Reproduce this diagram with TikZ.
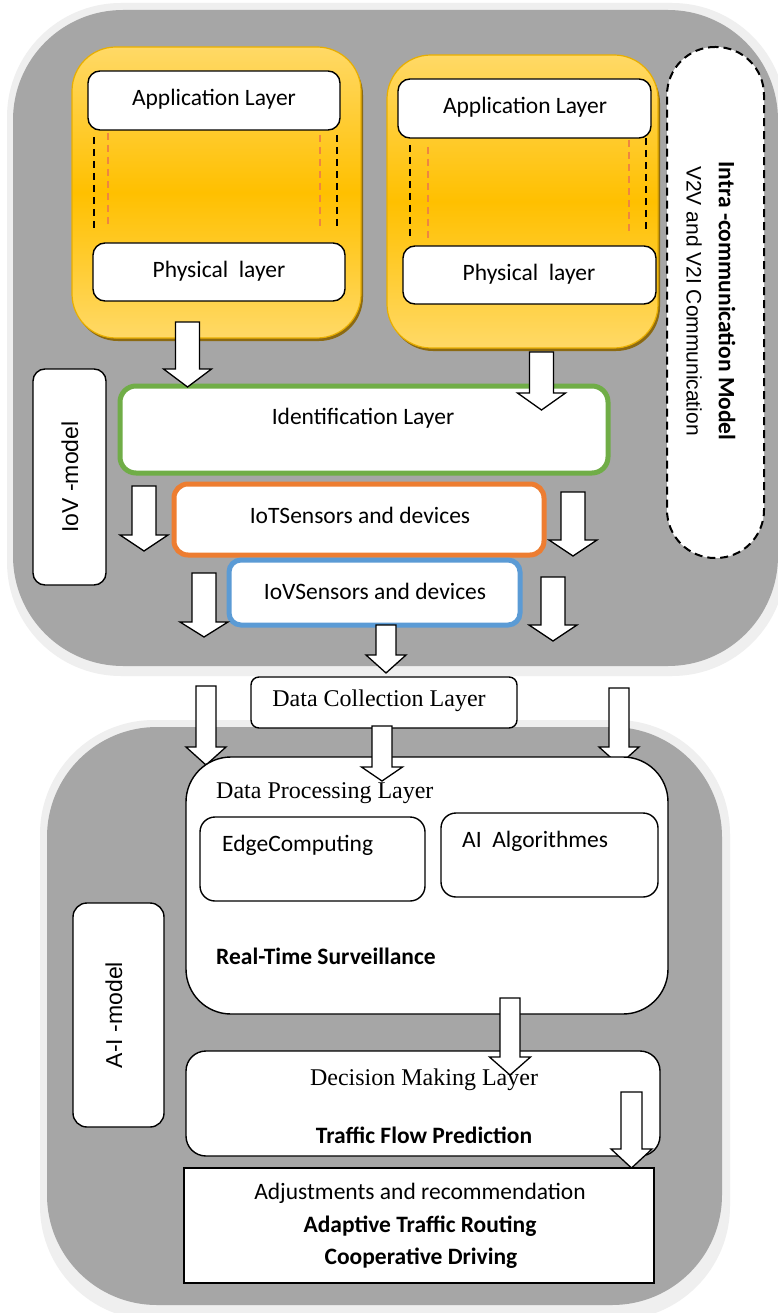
\documentclass[tikz,border=0pt]{standalone}
\usepackage{fontspec}
\usepackage{graphicx}
\setmainfont{Carlito}
\newfontfamily\tnr{Liberation Serif}
\newfontfamily\arl{Liberation Sans}
\usetikzlibrary{fit}
\definecolor{cgray}{HTML}{A6A6A6}
\definecolor{rimc}{HTML}{EFEFEF}
\definecolor{ylight}{HTML}{FFD966}
\definecolor{ydark}{HTML}{FFC000}
\definecolor{ybord}{HTML}{E8AE00}
\definecolor{yshadow}{HTML}{8C6A12}
\definecolor{odc}{HTML}{EE8640}
\definecolor{gbord}{HTML}{70AD47}
\definecolor{obord}{HTML}{ED7D31}
\definecolor{bbord}{HTML}{5B9BD5}
\newcommand\barrow[6]{\draw[barr] ({#1-#5},#2) -- ({#1+#5},#2) -- ({#1+#5},#3) -- ({#1+#6},#3) -- (#1,#4) -- ({#1-#6},#3) -- ({#1-#5},#3) -- cycle;}
\begin{document}
\begin{tikzpicture}[x=1pt,y=-1pt,
  wbox/.style={draw=black, fill=white, line width=1.4pt, rounded corners=12pt, inner sep=0pt},
  ybox/.style={draw=ybord, line width=1.2pt, rounded corners=44pt, top color=ylight, bottom color=ylight, middle color=ydark, inner sep=0pt},
  cont/.style={fill=cgray, rounded corners=110pt, inner sep=0pt},
  rim/.style={fill=rimc, rounded corners=114pt, inner sep=0pt},
  bdash/.style={draw=black, dash pattern=on 7pt off 5pt, line width=1.8pt},
  odash/.style={draw=odc, dash pattern=on 7pt off 5pt, line width=1.9pt},
  barr/.style={draw=black, fill=white, line width=1.3pt, line join=miter},
  lbl/.style={inner sep=0pt, font=\fontsize{23.5}{26}\selectfont},
  blbl/.style={inner sep=0pt, font=\fontsize{23.5}{26}\selectfont\bfseries},
  tlbl/.style={inner sep=0pt, font=\fontsize{24}{27}\selectfont\tnr},
  albl/.style={inner sep=0pt, font=\fontsize{23}{26}\selectfont\arl},
]
\useasboundingbox (0,0) rectangle (778,1313);
\clip (0,0) rectangle (778,1313);
\fill[white] (0,0) rectangle (778,1313);

% containers
\node[rim, fit={(7,3)(786,676)}] (toprim) {};
\node[cont, fit={(13,10)(778,666)}] (top) {};
\node[rim, fit={(40,720)(730,1320)}] (botrim) {};
\node[cont, fit={(47,727)(722,1305)}] (bot) {};

% yellow stacks
\fill[yshadow, rounded corners=44pt] (74,51) rectangle (363,341);
\node[ybox, fit={(72,47)(361,338)}] (stack1) {};
\fill[yshadow, rounded corners=44pt] (389,59) rectangle (660,351);
\node[ybox, fit={(387,55)(658,348)}] (stack2) {};

\draw[bdash] (94,137) -- (94,230);
\draw[odash] (108,133) -- (108,225);
\draw[odash] (320,135) -- (320,228);
\draw[bdash] (337,135) -- (337,228);
\draw[bdash] (410,145) -- (410,238);
\draw[odash] (428,147) -- (428,240);
\draw[odash] (629,140) -- (629,232);
\draw[bdash] (646,138) -- (646,232);

\node[wbox, fit={(88,71)(340,130)}] (app1) {};
\node[lbl] (app1t) at (214,99) {Application Layer};
\node[wbox, fit={(93,243)(345,301)}] (phy1) {};
\node[lbl] (phy1t) at (219,271) {Physical\ \ layer};
\node[wbox, fit={(398,79)(651,138)}] (app2) {};
\node[lbl] (app2t) at (525,107) {Application Layer};
\node[wbox, fit={(403,246)(656,304)}] (phy2) {};
\node[lbl] (phy2t) at (529,274) {Physical\ \ layer};

% intra-communication
\node[draw=black, fill=white, dash pattern=on 8pt off 5pt, line width=2pt, rounded corners=48pt, inner sep=0pt, fit={(667,47)(764,558)}] (intra) {};
\node[blbl, rotate=-90] (intrat) at (727,301) {Intra -communication Model};
\node[inner sep=0pt, font=\fontsize{21}{24}\selectfont\arl, rotate=-90] (v2v) at (694,301) {V2V and V2I Communication};

% IoV model
\node[wbox, fit={(33,369)(106,585)}] (iovm) {};
\node[albl, rotate=90] (iovmt) at (70,477) {IoV -model};

\node[wbox, draw=gbord, line width=5pt, rounded corners=16pt, fit={(120,386)(608,473)}] (ident) {};
\node[lbl] (identt) at (363,418) {Identification Layer};
\node[wbox, draw=obord, line width=5pt, rounded corners=14pt, fit={(174,484)(544,555)}] (iot) {};
\node[lbl] (iott) at (360,515) {IoTSensors and devices};
\node[wbox, draw=bbord, line width=5pt, rounded corners=12pt, fit={(229,560)(520,625)}] (iovs) {};
\node[lbl] (iovst) at (375,591) {IoVSensors and devices};

% arrows top
\barrow{187.5}{322}{369}{387}{12}{24}
\barrow{541.5}{352}{393}{410}{12}{24}
\barrow{144}{486}{535}{551}{12}{24}
\barrow{573}{492}{540}{556}{12}{24}
\barrow{204}{573}{622}{637}{12}{24}
\barrow{553}{577}{625}{641}{12}{24}
\barrow{386}{625}{655}{673}{10}{20}

% data collection
\node[wbox, rounded corners=8pt, fit={(251,677)(517,728)}] (dcl) {};
\node[tlbl] (dclt) at (379,701) {Data Collection Layer};

\barrow{206}{686}{747}{765}{10}{20}
\barrow{619}{688}{747}{765}{10}{20}

% data processing
\node[wbox, rounded corners=45pt, fit={(186,757)(668,1014)}] (dpl) {};
\node[tlbl, anchor=west] (dplt) at (216,793) {Data Processing Layer};
\node[wbox, rounded corners=15pt, fit={(200,817)(425,901)}] (edge) {};
\node[lbl, anchor=west] (edget) at (222,845) {EdgeComputing};
\node[wbox, rounded corners=15pt, fit={(441,813)(658,897)}] (ai) {};
\node[lbl, anchor=west] (ait) at (462,841) {AI\ \ Algorithmes};
\node[blbl, anchor=west] (rts) at (216,956) {Real-Time Surveillance};

\barrow{382}{726}{767}{781}{10}{20.5}

% A-I model
\node[wbox, rounded corners=14pt, fit={(73,903)(164,1127)}] (aim) {};
\node[albl, rotate=90] (aimt) at (114,1015) {A-I -model};

% decision making
\node[wbox, rounded corners=20pt, fit={(186,1051)(660,1156)}] (dml) {};
\node[tlbl] (dmlt) at (424,1080) {Decision Making Layer};
\node[blbl] (tfp) at (424,1135) {Traffic Flow Prediction};

\barrow{510}{998}{1057}{1075}{10}{20.5}

% adjustments
\node[draw=black, fill=white, line width=1.4pt, inner sep=0pt, fit={(184,1168)(654,1283)}] (adj) {};
\node[lbl] (adjt) at (420,1193) {Adjustments and recommendation};
\node[blbl] (atr) at (420,1226) {Adaptive Traffic Routing};
\node[blbl] (cd) at (421,1258) {Cooperative Driving};

\barrow{631.5}{1092}{1149}{1168}{10.5}{20.5}
\end{tikzpicture}
\end{document}
